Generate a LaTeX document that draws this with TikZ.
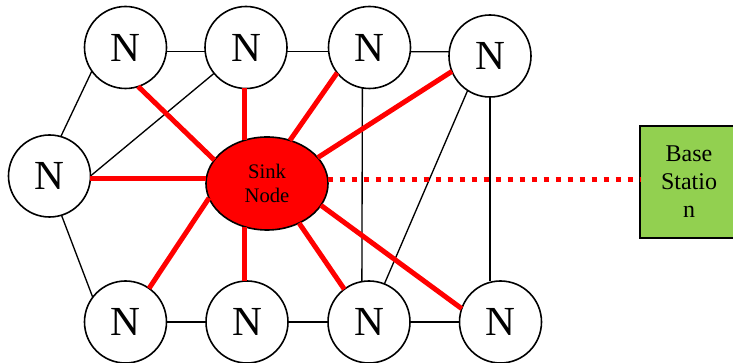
\documentclass[tikz,border=0pt]{standalone}
\usepackage{fontspec}
\setmainfont{Liberation Serif}
\usetikzlibrary{shapes.geometric,positioning}
\definecolor{bsgreen}{RGB}{146,208,80}

\begin{document}
\begin{tikzpicture}[x=0.75pt,y=0.75pt,yscale=-1,xscale=1,
        nnode/.style={circle,draw,line width=1.2pt,minimum size=61.5pt,inner sep=0pt,outer sep=0pt,font=\fontsize{31}{37}\selectfont},
        link/.style={line width=1pt},
        redlink/.style={red,line width=3.75pt}]
        \useasboundingbox (0,0) rectangle (733,363);

        % Sensor Nodes
        \node[nnode] (t1) at (125.5,47.5) {N};
        \node[nnode] (t2) at (246,47.5) {N};
        \node[nnode] (t3) at (369.5,47.5) {N};
        \node[nnode] (t4) at (490,56) {N};
        \node[nnode] (lft) at (49.5,176) {N};
        \node[nnode] (b1) at (125.5,322) {N};
        \node[nnode] (b2) at (247,322) {N};
        \node[nnode] (b3) at (369,322) {N};
        \node[nnode] (b4) at (500.5,322) {N};

        % Sink Node
        \node[ellipse,draw,fill=red,line width=1.2pt,minimum width=91.5pt,minimum height=69.75pt,inner sep=0pt,outer sep=0pt,align=center,font=\fontsize{15.5}{18}\selectfont] (sink) at (267,183.5) {Sink\\Node};

        % Base Station
        \node[rectangle,draw,fill=bsgreen,line width=1pt,minimum width=73.5pt,minimum height=84pt,inner sep=0pt,outer sep=0pt,align=center,font=\fontsize{18}{21}\selectfont] (bs) at (689,182) {Base\\Statio\\n};

        % Straight Lines between nodes
        \draw[link] (t1.-6) -- (t2.186);
        \draw[link] (t2.-6) -- (t3.186);
        \draw[link] (t3.-6) -- (t4.174);
        \draw[link] (t1.215) -- (lft.74);
        \draw[link] (t2.219) -- (lft.east);
        \draw[link] (lft.287) -- (b1.143);
        \draw[link] (b1) -- (b2);
        \draw[link] (b2) -- (b3);
        \draw[link] (b3) -- (b4);
        \draw[link] (t3.260) -- (b3.100);
        \draw[link] (t4.237) -- (b3.68);
        \draw[link] (t4.south) -- (t4.south |- b4.north);

        % Red Lines to the sink
        \draw[redlink] (t1.-72) -- (sink.156);
        \draw[redlink] (sink.117 |- t2.south) -- (sink.117);
        \draw[redlink] (t3.218) -- (sink.62);
        \draw[redlink] (t4.202) -- (sink.27);
        \draw[redlink] (lft.-4) -- (lft.-4 -| sink.west);
        \draw[redlink] (b1.55) -- (sink.194);
        \draw[redlink] (sink.243) -- (sink.243 |- b2.north);
        \draw[redlink] (b3.127) -- (sink.309);
        \draw[redlink] (b4.161) -- (sink.338);

        % Dotted Line to the base station
        \draw[red,line width=4pt,dash pattern={on 4.3pt off 4.7pt}] (sink.4) -- (sink.4 -| bs.west);
    \end{tikzpicture}
\end{document}
